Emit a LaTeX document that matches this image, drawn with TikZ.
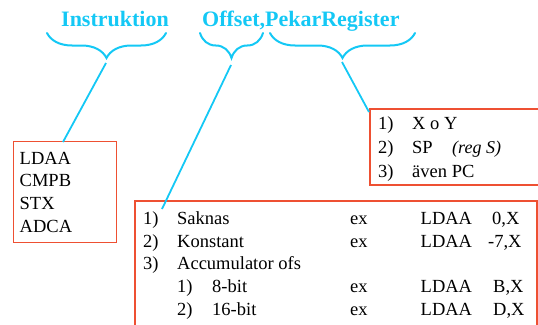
\documentclass[tikz,border=0pt]{standalone}
\usepackage{fontspec}
\setmainfont{Liberation Serif}
\usetikzlibrary{decorations.pathreplacing}
\definecolor{labelcyan}{RGB}{20,200,245}
\definecolor{boxred}{RGB}{238,80,50}
\tikzset{
  title/.style={font=\fontsize{22}{24}\selectfont\bfseries, text=labelcyan, anchor=base, inner sep=0pt},
  txt/.style={font=\fontsize{18.5}{22}\selectfont, anchor=base west, inner sep=0pt},
  note/.style={font=\fontsize{18}{22}\selectfont\itshape, anchor=base west, inner sep=0pt},
  bracket/.style={draw=labelcyan, line width=2pt, line cap=round,
    decorate, decoration={brace, amplitude=25pt, aspect=0.5}},
  link/.style={draw=labelcyan, line width=1.8pt},
  frame/.style={draw=boxred, line width=1.3pt},
}
\begin{document}
\begin{tikzpicture}[x=1pt, y=-1pt]
\useasboundingbox (0,0) rectangle (538,324);

% headings
\node[title] (hInstr) at (115,26.5) {Instruktion};
\node[title, anchor=base west] (hOffs) at (202,26.5) {Offset,PekarRegister};

% braces under the headings
\draw[bracket] (166,33) -- (47,33);
\draw[bracket] (263,33) -- (200,33);
\draw[bracket] (415,33) -- (270,33);
\coordinate (tipA) at (106,63);
\coordinate (tipB) at (231,65);
\coordinate (tipC) at (342,62);

% instruction box
\node[frame, minimum width=103pt, minimum height=101pt, anchor=north west, inner sep=0pt] (instrBox) at (13,141) {};
\node[txt] (i1) at (19.5,164) {LDAA};
\node[txt] (i2) at (19.5,186.9) {CMPB};
\node[txt] (i3) at (19.5,209.8) {STX};
\node[txt] (i4) at (19.5,232.7) {ADCA};
\coordinate (instrTop) at (63,142);

% register box (continues past the right edge)
\draw[frame] (545,109) -- (370,109) -- (370,185) -- (545,185);
\node[txt] (r1n) at (378,129) {1)};
\node[txt] (r1) at (412,129) {X o Y};
\node[txt] (r2n) at (378,153) {2)};
\node[txt] (r2) at (412,153) {SP};
\node[note] (r2b) at (452,153) {(reg S)};
\node[txt] (r3n) at (378,177.3) {3)};
\node[txt] (r3) at (412,177.3) {även PC};
\coordinate (regCorner) at (369,112);

% offset box (continues past the bottom edge)
\draw[frame] (537,335) -- (537,201) -- (135,201) -- (135,335);
\node[txt] (o1n) at (143,224.5) {1)};
\node[txt] (o1) at (177,224.5) {Saknas};
\node[txt] (o1e) at (350,224.5) {ex};
\node[txt] (o1l) at (420.5,224.5) {LDAA};
\node[txt] (o1a) at (492,224.5) {0,X};
\node[txt] (o2n) at (143,247.2) {2)};
\node[txt] (o2) at (177,247.2) {Konstant};
\node[txt] (o2e) at (350,247.2) {ex};
\node[txt] (o2l) at (420.5,247.2) {LDAA};
\node[txt] (o2a) at (488,247.2) {-7,X};
\node[txt] (o3n) at (143,269.9) {3)};
\node[txt] (o3) at (177,269.9) {Accumulator ofs};
\node[txt] (o4n) at (177,292.6) {1)};
\node[txt] (o4) at (212,292.6) {8-bit};
\node[txt] (o4e) at (350,292.6) {ex};
\node[txt] (o4l) at (420.5,292.6) {LDAA};
\node[txt] (o4a) at (493,292.6) {B,X};
\node[txt] (o5n) at (177,315.3) {2)};
\node[txt] (o5) at (212,315.3) {16-bit};
\node[txt] (o5e) at (350,315.3) {ex};
\node[txt] (o5l) at (420.5,315.3) {LDAA};
\node[txt] (o5a) at (493,315.3) {D,X};
\coordinate (offsEnd) at (162,209);

% connectors from braces to boxes
\draw[link] (tipA) -- (instrTop);
\draw[link] (tipB) -- (offsEnd);
\draw[link] (tipC) -- (regCorner);
\end{tikzpicture}
\end{document}
